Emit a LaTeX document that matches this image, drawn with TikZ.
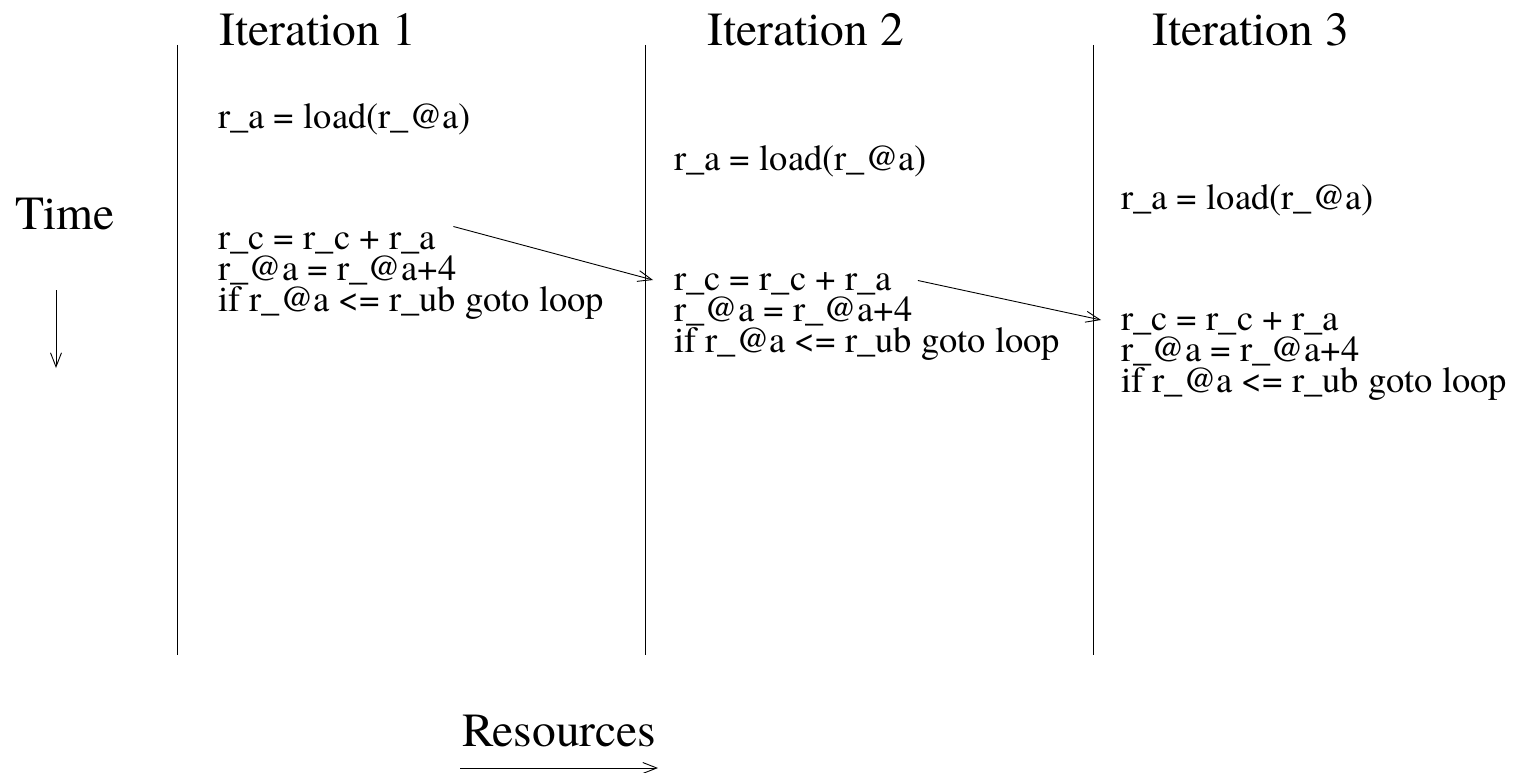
\documentclass[tikz,border=0pt]{standalone}
\usepackage{fontspec}
\setmainfont{TeX Gyre Termes}
\usetikzlibrary{arrows.meta}
\tikzset{
  big/.style={inner sep=0pt, anchor=base west, font=\fontsize{47.5}{47.5}\selectfont},
  code/.style={inner sep=0pt, anchor=base west, font=\fontsize{36.5}{36.5}\selectfont},
  sep/.style={line width=1pt},
  arr/.style={line width=0.9pt, -{Straight Barb[length=14pt,width=11pt,line width=0.9pt]}}
}
\begin{document}
\begin{tikzpicture}[x=1pt,y=-1pt]
\useasboundingbox (0,0) rectangle (1515,773);
% separators
\coordinate (s1t) at (177,45); \coordinate (s1b) at (177,655);
\coordinate (s2t) at (645,45); \coordinate (s2b) at (645,655);
\coordinate (s3t) at (1093,45); \coordinate (s3b) at (1093,655);
\draw[sep] (s1t) -- (s1b);
\draw[sep] (s2t) -- (s2b);
\draw[sep] (s3t) -- (s3b);
% titles
\node[big] (it1) at (219,46) {Iteration 1};
\node[big] (it2) at (707,46) {Iteration 2};
\node[big] (it3) at (1152,46) {Iteration 3};
\node[big] (time) at (15,229) {Time};
\node[big] (res) at (462,746) {Resources};
% column 1
\node[code] (la1) at (218,129) {r\_a = load(r\_@a)};
\node[code] (rc1) at (218,249.5) {r\_c = r\_c + r\_a};
\node[code] (ad1) at (218,280.5) {r\_@a = r\_@a+4};
\node[code] (if1) at (218,311.5) {if r\_@a <= r\_ub goto loop};
% column 2
\node[code] (la2) at (674,170) {r\_a = load(r\_@a)};
\node[code] (rc2) at (674,290.5) {r\_c = r\_c + r\_a};
\node[code] (ad2) at (674,321.5) {r\_@a = r\_@a+4};
\node[code] (if2) at (674,352.5) {if r\_@a <= r\_ub goto loop};
% column 3
\node[code] (la3) at (1121,209) {r\_a = load(r\_@a)};
\node[code] (rc3) at (1121,330.5) {r\_c = r\_c + r\_a};
\node[code] (ad3) at (1121,361.5) {r\_@a = r\_@a+4};
\node[code] (if3) at (1121,392.5) {if r\_@a <= r\_ub goto loop};
% dependency arrows
\draw[arr] ([xshift=17.5pt,yshift=23pt]rc1.base east) -- ([xshift=-21pt,yshift=10.5pt]rc2.base west);
\draw[arr] ([xshift=26pt,yshift=10pt]rc2.base east) -- ([xshift=-20pt,yshift=10.5pt]rc3.base west);
% axis arrows
\coordinate (tA) at (56,290); \coordinate (tB) at (56,368);
\draw[arr] (tA) -- (tB);
\coordinate (rA) at (460,768); \coordinate (rB) at (658,768);
\draw[arr] (rA) -- (rB);
\end{tikzpicture}
\end{document}
